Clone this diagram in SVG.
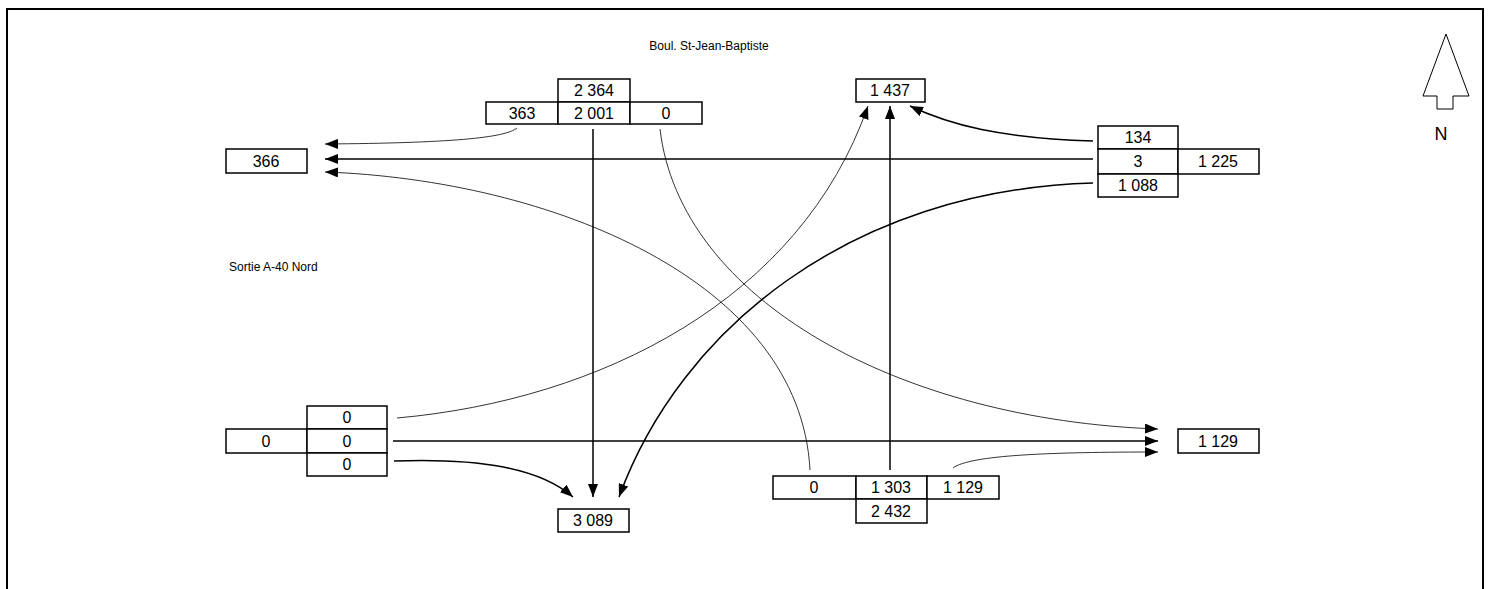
<svg xmlns="http://www.w3.org/2000/svg" width="1493" height="589" viewBox="0 0 1493 589">
<style>
.b{fill:#fff;stroke:#000;stroke-width:1.5}
.t{font-family:"Liberation Sans",Arial,sans-serif;font-size:16px;fill:#000;text-anchor:middle}
.l{font-family:"Liberation Sans",Arial,sans-serif;font-size:12px;fill:#000}
.k{fill:none;stroke:#000;stroke-width:1.5}
.n{fill:none;stroke:#000;stroke-width:0.8}
</style>
<defs>
<marker id="a" markerWidth="13" markerHeight="10" refX="13" refY="5" orient="auto" markerUnits="userSpaceOnUse"><path d="M0,0 L13,5 L0,10 z" fill="#000"/></marker>
</defs>
<rect width="1493" height="589" fill="#fff"/>
<path d="M7,589 V9 H1483 V589" fill="none" stroke="#000" stroke-width="2"/>
<text class="l" x="709" y="50" text-anchor="middle">Boul. St-Jean-Baptiste</text>
<text class="l" x="229" y="271">Sortie A-40 Nord</text>
<g id="north">
<polygon points="1446,34 1469,96 1453,96 1453,109 1437,109 1437,96 1423,96" fill="#fff" stroke="#000" stroke-width="1"/>
<text x="1441" y="140" font-family="Liberation Sans,Arial,sans-serif" font-size="18" text-anchor="middle">N</text>
</g>
<g id="connectors">
<path class="n" d="M517,128 C505,138 450,143 325,144" marker-end="url(#a)"/>
<path class="k" d="M1093,159 H325" marker-end="url(#a)"/>
<path class="n" d="M810,470 C800,280 550,180 325,172" marker-end="url(#a)"/>
<path class="k" d="M593,129 V497" marker-end="url(#a)"/>
<path class="n" d="M660,129 C680,300 900,420 1158,429" marker-end="url(#a)"/>
<path class="k" d="M1093,141 C1000,138 950,125 910,106" marker-end="url(#a)"/>
<path class="k" d="M890,470 V106" marker-end="url(#a)"/>
<path class="n" d="M397,418 C600,400 800,300 868,106" marker-end="url(#a)"/>
<path class="k" d="M1093,183 C850,190 680,330 619,497" marker-end="url(#a)"/>
<path class="k" d="M393,441 H1158" marker-end="url(#a)"/>
<path class="k" d="M394,461 C480,458 540,468 573,497" marker-end="url(#a)"/>
<path class="n" d="M953,468 C970,455 1050,452 1158,452" marker-end="url(#a)"/>
</g>
<g id="north-approach">
<rect class="b" x="558" y="79" width="72" height="23"/>
<text class="t" x="594" y="96">2 364</text>
<rect class="b" x="486" y="102" width="72" height="22"/>
<rect class="b" x="558" y="102" width="72" height="22"/>
<rect class="b" x="630" y="102" width="72" height="22"/>
<text class="t" x="522" y="119">363</text>
<text class="t" x="594" y="119">2 001</text>
<text class="t" x="666" y="119">0</text>
</g>
<g id="north-exit">
<rect class="b" x="856" y="79" width="69" height="23"/>
<text class="t" x="890" y="96">1 437</text>
</g>
<g id="east-approach">
<rect class="b" x="1098" y="126" width="80" height="23"/>
<rect class="b" x="1098" y="149" width="80" height="25"/>
<rect class="b" x="1178" y="149" width="81" height="25"/>
<rect class="b" x="1098" y="174" width="80" height="23"/>
<text class="t" x="1138" y="143">134</text>
<text class="t" x="1138" y="167">3</text>
<text class="t" x="1218" y="167">1 225</text>
<text class="t" x="1138" y="191">1 088</text>
</g>
<g id="west-exit">
<rect class="b" x="226" y="149" width="81" height="24"/>
<text class="t" x="266" y="167">366</text>
</g>
<g id="west-approach">
<rect class="b" x="307" y="406" width="80" height="23"/>
<rect class="b" x="226" y="429" width="81" height="24"/>
<rect class="b" x="307" y="429" width="80" height="24"/>
<rect class="b" x="307" y="453" width="80" height="23"/>
<text class="t" x="347" y="423">0</text>
<text class="t" x="266" y="447">0</text>
<text class="t" x="347" y="447">0</text>
<text class="t" x="347" y="470">0</text>
</g>
<g id="south-exit">
<rect class="b" x="558" y="509" width="71" height="23"/>
<text class="t" x="593" y="526">3 089</text>
</g>
<g id="south-approach">
<rect class="b" x="773" y="476" width="83" height="23"/>
<rect class="b" x="856" y="476" width="71" height="23"/>
<rect class="b" x="927" y="476" width="72" height="23"/>
<rect class="b" x="856" y="499" width="71" height="24"/>
<text class="t" x="814" y="493">0</text>
<text class="t" x="891" y="493">1 303</text>
<text class="t" x="963" y="493">1 129</text>
<text class="t" x="891" y="517">2 432</text>
</g>
<g id="east-exit">
<rect class="b" x="1178" y="429" width="81" height="24"/>
<text class="t" x="1218" y="447">1 129</text>
</g>
</svg>
